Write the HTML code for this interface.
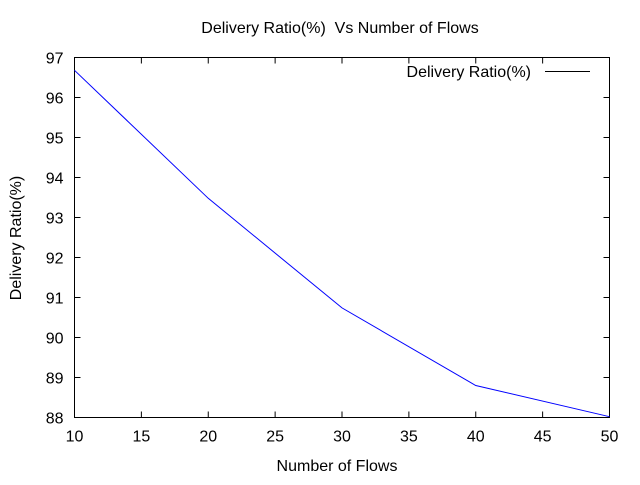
<!DOCTYPE html>
<html><head><meta charset="utf-8"><style>
body{margin:0;background:#fff;}
svg text{font-family:"Liberation Sans",sans-serif;font-size:16px;fill:#000;}
</style></head><body>
<svg id="chart" width="640" height="480">
<text x="340" y="33" text-anchor="middle" style="white-space:pre" xml:space="preserve">Delivery Ratio(%)  Vs Number of Flows</text>
<text x="337" y="471" text-anchor="middle">Number of Flows</text>
<text transform="translate(21,238) rotate(-90)" text-anchor="middle">Delivery Ratio(%)</text>
<rect x="74.5" y="57.5" width="535" height="360" fill="none" stroke="#000"/>
<g id="ticks"></g>
<text x="531" y="77" text-anchor="end">Delivery Ratio(%)</text>
<line x1="545" y1="71.5" x2="590" y2="71.5" stroke="#000"/>
<path id="series" fill="none" stroke="#0000ff" stroke-width="1"/>
</svg>
<script>
const flows = [10, 20, 30, 40, 50];
const ratio = [96.68, 93.48, 90.74, 88.8, 88.02];
const xTicks = [10, 15, 20, 25, 30, 35, 40, 45, 50];
const yTicks = [88, 89, 90, 91, 92, 93, 94, 95, 96, 97];
const L=74.5,R=609.5,T=57.5,B=417.5;
const xs=v=>L+(v-10)/40*(R-L);
const ys=v=>B-(v-88)/9*(B-T);
const g=document.getElementById('ticks');
const NS='http://www.w3.org/2000/svg';
function mk(t,a){const e=document.createElementNS(NS,t);for(const k in a)e.setAttribute(k,a[k]);return e;}
xTicks.forEach(v=>{const x=xs(v);
 g.appendChild(mk('line',{x1:x,y1:B,x2:x,y2:B-6,stroke:'#000'}));
 g.appendChild(mk('line',{x1:x,y1:T,x2:x,y2:T+6,stroke:'#000'}));
 const t=mk('text',{x:x,y:B+24,'text-anchor':'middle'});t.textContent=v;
 
 
 g.appendChild(t);});
yTicks.forEach(v=>{const y=ys(v);
 g.appendChild(mk('line',{x1:L,y1:y,x2:L+6,y2:y,stroke:'#000'}));
 g.appendChild(mk('line',{x1:R,y1:y,x2:R-6,y2:y,stroke:'#000'}));
 const t=mk('text',{x:L-11,y:y+6,'text-anchor':'end'});t.textContent=v;
 
 
 g.appendChild(t);});
document.getElementById('series').setAttribute('d',flows.map((f,i)=>(i?'L':'M')+xs(f)+','+ys(ratio[i])).join(''));
</script>
</body></html>
